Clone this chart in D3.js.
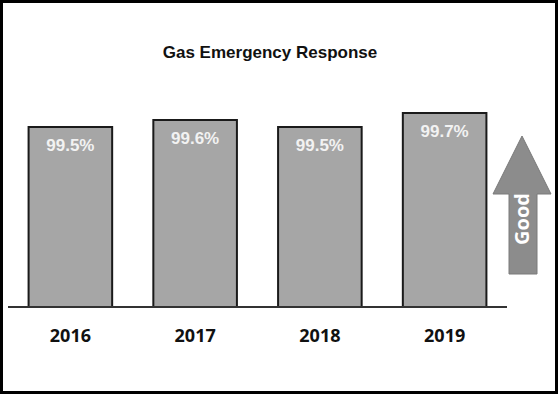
<!DOCTYPE html>
<html>
<head>
<meta charset="utf-8">
<script src="https://cdn.jsdelivr.net/npm/d3@7"></script>
<style>
  html, body { margin: 0; padding: 0; background: #fff; }
  svg { display: block; }
</style>
</head>
<body>
<div id="chart"></div>
<script>
var title = "Gas Emergency Response";
var years = ["2016", "2017", "2018", "2019"];
var values = [99.5, 99.6, 99.5, 99.7];
var valueLabels = ["99.5%", "99.6%", "99.5%", "99.7%"];
var arrowLabel = "Good";

var W = 558, H = 394;
var baseY = 307;

var svg = d3.select("#chart").append("svg")
  .attr("width", W)
  .attr("height", H);

// outer frame
svg.append("rect")
  .attr("x", 1.5).attr("y", 1.5)
  .attr("width", W - 3).attr("height", H - 3)
  .attr("fill", "#fff")
  .attr("stroke", "#000")
  .attr("stroke-width", 3);

svg.append("text")
  .attr("x", 270).attr("y", 58)
  .attr("text-anchor", "middle")
  .attr("font-family", "Liberation Sans, Arial, sans-serif")
  .attr("font-weight", "bold")
  .attr("font-size", "17px")
  .attr("fill", "#111")
  .text(title);

var x = d3.scaleBand()
  .domain(years)
  .range([8, 507])
  .paddingInner(0.33)
  .paddingOuter(0.165);

// axis is truncated, the bars start well above zero
var y = d3.scaleLinear()
  .domain([96.93, 99.7])
  .range([baseY, 113]);

var bars = svg.selectAll("g.bar")
  .data(years)
  .enter().append("g")
  .attr("class", "bar");

bars.append("rect")
  .attr("x", function(d){ return x(d); })
  .attr("y", function(d, i){ return y(values[i]); })
  .attr("width", x.bandwidth())
  .attr("height", function(d, i){ return baseY - y(values[i]); })
  .attr("fill", "#a6a6a6")
  .attr("stroke", "#1a1a1a")
  .attr("stroke-width", 2);

bars.append("text")
  .attr("x", function(d){ return x(d) + x.bandwidth() / 2; })
  .attr("y", function(d, i){ return y(values[i]) + 24; })
  .attr("text-anchor", "middle")
  .attr("font-family", "Liberation Sans, Arial, sans-serif")
  .attr("font-weight", "bold")
  .attr("font-size", "17px")
  .attr("fill", "#f2f2f2")
  .text(function(d, i){ return valueLabels[i]; });

// baseline
svg.append("line")
  .attr("x1", 8).attr("x2", 507)
  .attr("y1", baseY).attr("y2", baseY)
  .attr("stroke", "#333")
  .attr("stroke-width", 2);

var xAxis = svg.append("g")
  .attr("transform", "translate(0," + baseY + ")")
  .call(d3.axisBottom(x).tickSize(0).tickPadding(0));
xAxis.select(".domain").remove();
xAxis.selectAll("text")
  .attr("dy", null)
  .attr("y", 35)
  .attr("font-family", "Open Sans, sans-serif")
  .attr("font-weight", "bold")
  .attr("font-size", "18px")
  .attr("fill", "#111");

// "Good" arrow
var arrow = [[522, 136], [551, 194], [537, 194], [537, 274], [509, 274], [509, 194], [493, 194]];
svg.append("path")
  .attr("d", d3.line()(arrow) + "Z")
  .attr("fill", "#8c8c8c")
  .attr("stroke", "#7a7a7a")
  .attr("stroke-width", 1);

svg.append("text")
  .attr("transform", "translate(529,219) rotate(-90)")
  .attr("text-anchor", "middle")
  .attr("font-family", "Open Sans, sans-serif")
  .attr("font-weight", "bold")
  .attr("font-size", "20px")
  .attr("fill", "#fff")
  .text(arrowLabel);
</script>
</body>
</html>
